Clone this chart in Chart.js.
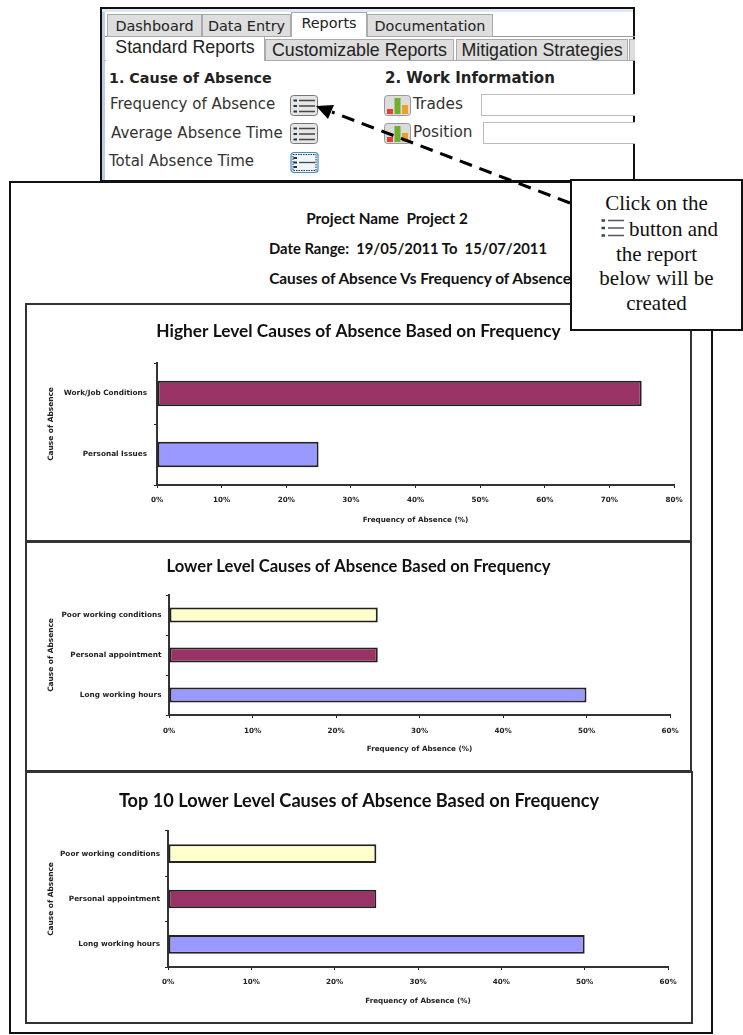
<!DOCTYPE html>
<html>
<head>
<meta charset="utf-8">
<script src="https://cdn.jsdelivr.net/npm/chart.js@4/dist/chart.umd.min.js"></script>
<style>
html,body{margin:0;padding:0;background:#fff;}
body{width:743px;height:1035px;position:relative;overflow:hidden;filter:blur(0.35px);}
.a{position:absolute;box-sizing:border-box;white-space:nowrap;}
.t{position:absolute;white-space:nowrap;line-height:1;}
.ui{font-family:"DejaVu Sans",sans-serif;color:#333;font-size:15px;}
.tab{position:absolute;box-sizing:border-box;background:#dedede;border:1px solid #aaa;font-family:"DejaVu Sans",sans-serif;font-size:14.4px;color:#222;text-align:center;}
.tab2{position:absolute;box-sizing:border-box;background:#dedede;border:1px solid #aaa;font-family:"Liberation Sans",sans-serif;font-size:17.8px;color:#222;text-align:center;}
.hd{font-family:Lato,sans-serif;font-weight:700;color:#111;transform:translateX(-50%);}
.box{position:absolute;box-sizing:border-box;border:2px solid #333;background:#fff;}
canvas{position:absolute;left:0;top:0;}
.inp{position:absolute;box-sizing:border-box;border:1px solid #bbb;background:#fff;border-right:none;}
.serif{font-family:"Liberation Serif",serif;font-size:21px;color:#111;position:absolute;left:0;right:0;text-align:center;line-height:1;}
</style>
</head>
<body>

<!-- application window -->
<div class="a" style="left:100px;top:7px;width:535px;height:175px;border:2px solid #111;border-left:2px solid #111;background:#fff;"></div>
<div class="a" style="left:102px;top:9px;width:3px;height:171px;background:#b9cde6;"></div>
<div class="a" style="left:102px;top:9px;width:531px;height:3px;background:#dfe8f5;"></div>
<div class="a" style="left:105px;top:36px;width:530px;height:1px;background:#999;"></div>
<div class="tab" style="left:107px;top:14px;width:95px;height:23px;line-height:22px;">Dashboard</div>
<div class="tab" style="left:202px;top:14px;width:89px;height:23px;line-height:22px;">Data Entry</div>
<div class="tab" style="left:291px;top:12px;width:76px;height:25px;line-height:21px;background:#fff;border-bottom:none;">Reports</div>
<div class="tab" style="left:367px;top:14px;width:126px;height:23px;line-height:22px;">Documentation</div>
<div class="tab2" style="left:265px;top:39px;width:189px;height:22px;line-height:21px;">Customizable Reports</div>
<div class="tab2" style="left:456px;top:39px;width:172px;height:22px;line-height:21px;">Mitigation Strategies</div>
<div class="tab2" style="left:629px;top:39px;width:6px;height:22px;border-right:none;"></div>
<div class="a" style="left:105px;top:60px;width:530px;height:1px;background:#aaa;"></div>
<div class="tab2" style="left:106px;top:37px;width:159px;height:24px;line-height:21px;background:#fff;border:none;border-right:1px solid #aaa;">Standard Reports</div>

<div class="t ui" style="left:109px;top:71px;font-weight:700;font-size:14.3px;color:#222;">1. Cause of Absence</div>
<div class="t ui" style="left:385px;top:71px;font-weight:700;font-size:15px;color:#222;">2. Work Information</div>
<div class="t ui" style="left:110px;top:97px;">Frequency of Absence</div>
<div class="t ui" style="left:111px;top:126px;">Average Absence Time</div>
<div class="t ui" style="left:109px;top:154px;">Total Absence Time</div>
<div class="t ui" style="left:413px;top:97px;font-size:15.3px;">Trades</div>
<div class="t ui" style="left:413px;top:125px;font-size:15.3px;">Position</div>
<div class="inp" style="left:481px;top:94px;width:154px;height:22px;"></div>
<div class="inp" style="left:483px;top:122px;width:152px;height:22px;"></div>

<!-- list buttons -->
<svg class="a" style="left:289px;top:94px;" width="31" height="80" viewBox="0 0 31 80">
  <g id="li" stroke="#333" stroke-width="1" fill="none">
    <rect x="1.5" y="1.5" width="27" height="20" rx="3" fill="#e6e6e6" stroke="#777"/>
    <path d="M10 6.5H26M10 12H26M10 17.5H26" stroke="#444" stroke-width="1.3"/>
    <path d="M4.5 6.5H8M4.5 12H8M4.5 17.5H8" stroke="#234" stroke-width="2.2"/>
  </g>
  <use href="#li" y="28"/>
  <g>
    <rect x="2" y="58.5" width="27" height="20" rx="3" fill="#eef5fb" stroke="#3f8fd0" stroke-width="1.2"/>
    <rect x="4" y="60.5" width="23" height="16" fill="none" stroke="#333" stroke-width="1" stroke-dasharray="1.5 1"/>
    <path d="M10 68.5H26" stroke="#444" stroke-width="1.3"/>
    <path d="M4.5 64H8M4.5 68.5H8M4.5 73H8" stroke="#234" stroke-width="2.2"/>
  </g>
</svg>
<!-- bar-chart buttons -->
<svg class="a" style="left:384px;top:94px;" width="28" height="52" viewBox="0 0 28 52">
  <g id="bi">
    <rect x="0.5" y="1.5" width="26" height="20" rx="3" fill="#dcdcdc" stroke="#999"/>
    <rect x="3" y="15" width="6" height="5" fill="#e04030"/>
    <rect x="10.5" y="4" width="6" height="16" fill="#6fae2e"/>
    <rect x="18" y="11" width="6" height="9" fill="#f0a020"/>
  </g>
  <use href="#bi" y="28"/>
</svg>

<!-- report frame -->
<div class="a" style="left:9px;top:181px;width:704px;height:853px;border:2.5px solid #111;background:#fff;"></div>
<div class="t hd" style="left:387px;top:211px;font-size:15.3px;">Project Name&nbsp; Project 2</div>
<div class="t hd" style="left:408px;top:241px;font-size:14.8px;">Date Range:&nbsp; 19/05/2011 To&nbsp; 15/07/2011</div>
<div class="t hd" style="left:420px;top:271px;font-size:15.4px;">Causes of Absence Vs Frequency of Absence</div>

<div class="box" style="left:25px;top:303px;width:667px;height:239px;"><canvas id="c1"></canvas></div>
<div class="box" style="left:25px;top:541px;width:667px;height:231px;"><canvas id="c2"></canvas></div>
<div class="box" style="left:25px;top:771px;width:668px;height:253px;"><canvas id="c3"></canvas></div>

<!-- dashed arrow -->
<svg class="a" style="left:0;top:0;pointer-events:none;" width="743" height="340" viewBox="0 0 743 340">
  <line x1="570" y1="203" x2="332" y2="112" stroke="#000" stroke-width="3" stroke-dasharray="13 8"/>
  <polygon points="316,106 334,105 328,119" fill="#000"/>
</svg>

<!-- callout -->
<div class="a" style="left:570px;top:179px;width:173px;height:152px;border:2px solid #111;background:#fff;">
  <div class="serif" style="top:12px;">Click on the</div>
  <div class="serif" style="top:38px;padding-left:34px;box-sizing:border-box;">button and</div>
  <div class="serif" style="top:63px;">the report</div>
  <div class="serif" style="top:87px;">below will be</div>
  <div class="serif" style="top:112px;">created</div>
  <svg style="position:absolute;left:28px;top:35px;" width="26" height="24" viewBox="0 0 26 24">
    <path d="M8 4.5H24M8 12H24M8 19.5H24" stroke="#556" stroke-width="1.5"/>
    <path d="M1.5 4.5H5M1.5 12H5M1.5 19.5H5" stroke="#345" stroke-width="2.5"/>
  </svg>
</div>

<script>
// ---- data ----
const chart1Title = "Higher Level Causes of Absence Based on Frequency";
const chart1Categories = ["Work/Job Conditions", "Personal Issues"];
const chart1Values = [75, 25];
const chart1Colors = ["#993366", "#9999FF"];

const chart2Title = "Lower Level Causes of Absence Based on Frequency";
const chart2Categories = ["Poor working conditions", "Personal appointment", "Long working hours"];
const chart2Values = [25, 25, 50];
const chart2Colors = ["#FFFFCC", "#993366", "#9999FF"];

const chart3Title = "Top 10 Lower Level Causes of Absence Based on Frequency";
const chart3Categories = ["Poor working conditions", "Personal appointment", "Long working hours"];
const chart3Values = [25, 25, 50];
const chart3Colors = ["#FFFFCC", "#993366", "#9999FF"];

const xAxisTitle = "Frequency of Absence (%)";
const yAxisTitle = "Cause of Absence";

function makeChart(id, w, h, cfg) {
  const cv = document.getElementById(id);
  cv.width = w; cv.height = h;
  cv.style.width = w + "px"; cv.style.height = h + "px";
  const side = w - cfg.plotRight;
  const zero = s => { s.paddingLeft = s.paddingRight = s.paddingTop = s.paddingBottom = 0; };
  new Chart(cv, {
    type: "bar",
    data: {
      labels: cfg.categories,
      datasets: [{
        data: cfg.values,
        backgroundColor: cfg.colors,
        borderColor: "#222",
        borderWidth: 2,
        borderSkipped: false,
        categoryPercentage: 1,
        barPercentage: cfg.barPct
      }]
    },
    options: {
      indexAxis: "y",
      responsive: false,
      animation: false,
      layout: { padding: { left: side, right: side, top: 0, bottom: h - cfg.plotBottom - cfg.xHeight } },
      plugins: {
        legend: { display: false },
        tooltip: { enabled: false },
        title: {
          display: true,
          text: cfg.title,
          color: "#111",
          font: { family: "Lato", weight: "bold", size: cfg.titleSize, lineHeight: 1 },
          padding: { top: cfg.titleTop, bottom: cfg.plotTop - cfg.titleTop - cfg.titleSize }
        }
      },
      scales: {
        x: {
          min: 0, max: cfg.max,
          grid: { drawOnChartArea: false, color: "#222", tickLength: 3, tickWidth: 1 },
          border: { color: "#333", width: 2 },
          ticks: { stepSize: 10, maxRotation: 0, padding: cfg.xPad, color: "#222", font: { family: "DejaVu Sans", weight: "bold", size: 7.2 }, callback: v => v + "%" },
          title: { display: true, text: xAxisTitle, color: "#222", font: { family: "DejaVu Sans", weight: "bold", size: 7.2, lineHeight: 1 }, padding: { top: 0, bottom: 0 } },
          afterFit: s => { s.height = cfg.xHeight; zero(s); }
        },
        y: {
          grid: { drawOnChartArea: false, color: "#222", tickLength: 3, tickWidth: 1 },
          border: { color: "#333", width: 2 },
          ticks: { padding: cfg.yPad, color: "#222", font: { family: "DejaVu Sans", weight: "bold", size: 7.3 }, autoSkip: false },
          title: { display: true, text: yAxisTitle, color: "#222", font: { family: "DejaVu Sans", weight: "bold", size: 7.4, lineHeight: 1 }, padding: { top: 20 - side, bottom: 0 } },
          afterFit: s => { s.width = cfg.plotLeft - side; zero(s); }
        }
      }
    }
  });
}

// canvases sit inside a 2px border: local = page - (box left/top + 2)
makeChart("c1", 663, 235, { title: chart1Title, categories: chart1Categories, values: chart1Values, colors: chart1Colors, max: 80, barPct: 0.42, titleSize: 17.3,
  plotLeft: 130, plotRight: 647, plotTop: 58, plotBottom: 180, xHeight: 39, titleTop: 18, xPad: 8, yPad: 7 });
makeChart("c2", 663, 227, { title: chart2Title, categories: chart2Categories, values: chart2Values, colors: chart2Colors, max: 60, barPct: 0.37, titleSize: 16.6,
  plotLeft: 142, plotRight: 643, plotTop: 52, plotBottom: 172, xHeight: 38, titleTop: 15, xPad: 9, yPad: 4.5 });
makeChart("c3", 664, 249, { title: chart3Title, categories: chart3Categories, values: chart3Values, colors: chart3Colors, max: 60, barPct: 0.41, titleSize: 18.2,
  plotLeft: 141, plotRight: 641, plotTop: 58, plotBottom: 194, xHeight: 38, titleTop: 19, xPad: 8, yPad: 5 });
</script>
</body>
</html>
